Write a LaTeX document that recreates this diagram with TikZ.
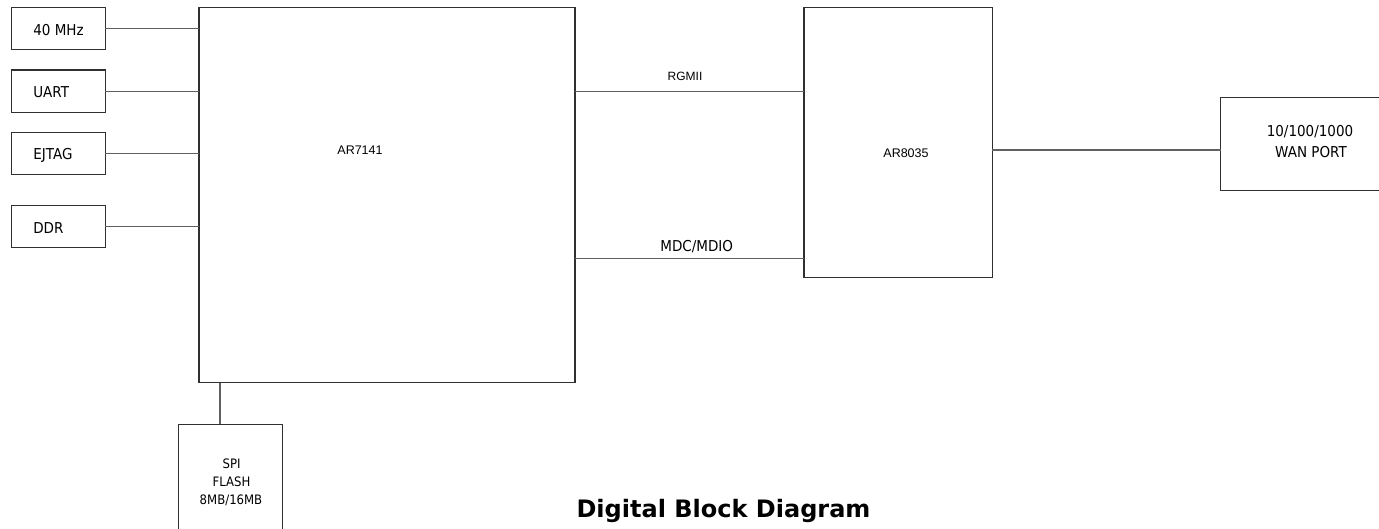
\documentclass[tikz,border=0pt]{standalone}
\usepackage{fontspec}
\newfontfamily\tah[FakeStretch=0.9]{DejaVu Sans}
\newfontfamily\ttlfont{DejaVu Sans}
\newfontfamily\ari{Liberation Sans}
\definecolor{boxc}{HTML}{303030}
\definecolor{linec}{HTML}{606060}
\tikzset{
  box/.style={draw=boxc, line width=1.1pt, rectangle, inner sep=0pt, outer sep=0pt},
  openbox/.style={rectangle, inner sep=0pt, outer sep=0pt},
  wire/.style={draw=linec, line width=1.1pt},
  tlbl/.style={inner sep=0pt, outer sep=0pt, anchor=base, font=\tah\fontsize{15}{18}\selectfont},
  albl/.style={inner sep=0pt, outer sep=0pt, anchor=base, font=\ari\fontsize{12.5}{15}\selectfont},
}
\begin{document}
\begin{tikzpicture}[x=1pt,y=-1pt]
\useasboundingbox (0,0) rectangle (1379,529);
% boxes
\node[box, minimum width=94pt, minimum height=41.6pt] (clk) at (58.2,28.5) {};
\node[box, minimum width=94pt, minimum height=42.3pt] (uart) at (58.2,91.2) {};
\node[box, minimum width=94pt, minimum height=41.6pt] (ejtag) at (58.2,153.5) {};
\node[box, minimum width=94pt, minimum height=41.7pt] (ddr) at (58.2,226.8) {};
\node[box, minimum width=376pt, minimum height=375.4pt] (ar) at (387,195) {};
\node[box, minimum width=188.3pt, minimum height=270.4pt] (phy) at (898.15,142.5) {};
\node[openbox, minimum width=158.3pt, minimum height=93.4pt] (wan) at (1299.85,144) {};
\draw[boxc, line width=1.1pt] (wan.north east) -- (wan.north west) -- (wan.south west) -- (wan.south east);
\node[openbox, minimum width=104.4pt, minimum height=104.7pt] (spi) at (230.5,476.65) {};
\draw[boxc, line width=1.1pt] (spi.south west) -- (spi.north west) -- (spi.north east) -- (spi.south east);
% labels
\node[tlbl, anchor=base west] (t1) at (33.3,35.7) {40 MHz};
\node[tlbl, anchor=base west] (t2) at (33.3,97.3) {UART};
\node[tlbl, anchor=base west] (t3) at (33.3,160) {EJTAG};
\node[tlbl, anchor=base west] (t4) at (33.3,233.3) {DDR};
\node[albl] (t5) at (360,155) {AR7141};
\node[albl] (t6) at (906,157.5) {AR8035};
\node[albl, font=\ari\fontsize{12}{14}\selectfont] (t7) at (685,81) {RGMII};
\node[tlbl] (t8) at (696.7,251.7) {MDC/MDIO};
\node[tlbl] (t9) at (1310,136.7) {10/100/1000};
\node[tlbl] (t10) at (1311,157.7) {WAN PORT};
\node[tlbl, font=\tah\fontsize{13}{16}\selectfont] (t11) at (231.7,468) {SPI};
\node[tlbl, font=\tah\fontsize{13}{16}\selectfont] (t12) at (231.5,486) {FLASH};
\node[tlbl, font=\tah\fontsize{13}{16}\selectfont] (t13) at (231,504) {8MB/16MB};
\node[inner sep=0pt, anchor=base, font=\ttlfont\bfseries\fontsize{24}{28}\selectfont] (title) at (723.5,517.3) {Digital Block Diagram};
% connectors
\coordinate (mdcy) at (0,258.5);
\coordinate (wany) at (0,150);
\coordinate (spix) at (220,0);
\draw[wire] (clk.east) -- (clk.east -| ar.west);
\draw[wire] (uart.east) -- (uart.east -| ar.west);
\draw[wire] (ejtag.east) -- (ejtag.east -| ar.west);
\draw[wire] (ddr.east) -- (ddr.east -| ar.west);
\draw[wire] (uart.east -| ar.east) -- (uart.east -| phy.west);
\draw[wire] (mdcy -| ar.east) -- (mdcy -| phy.west);
\draw[wire] (wany -| phy.east) -- (wany -| wan.west);
\draw[wire] (spix |- ar.south) -- (spix |- spi.north);
\end{tikzpicture}
\end{document}
